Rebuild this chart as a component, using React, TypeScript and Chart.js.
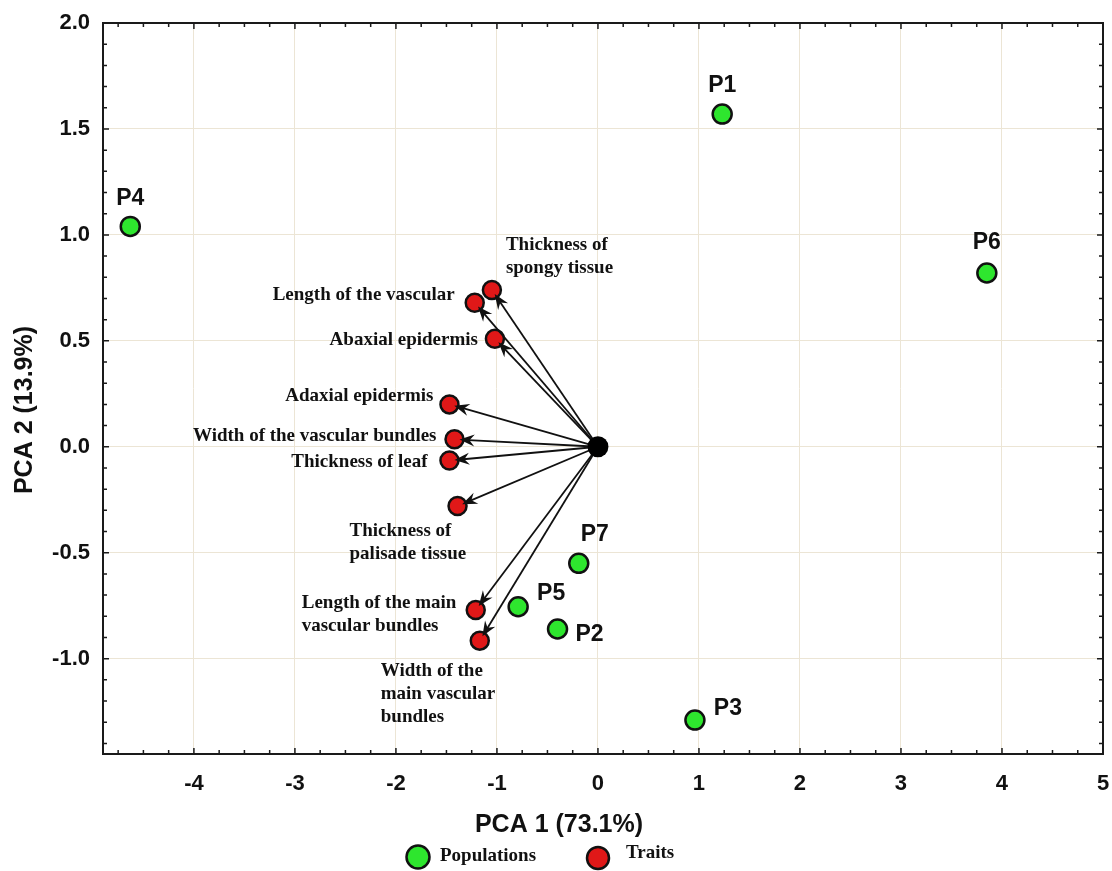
import React, { useEffect, useRef } from "react";
import { Chart, registerables } from "chart.js";

Chart.register(...registerables);

// ---- Data ----
const populationLabels = ["P1", "P2", "P3", "P4", "P5", "P6", "P7"];
const populationPC1 = [1.23, -0.4, 0.96, -4.63, -0.79, 3.85, -0.19];
const populationPC2 = [1.57, -0.86, -1.29, 1.04, -0.755, 0.82, -0.55];

const traitLabels: string[][] = [
  ["Thickness of", "spongy tissue"],
  ["Length of the vascular"],
  ["Abaxial epidermis"],
  ["Adaxial epidermis"],
  ["Width of the vascular bundles"],
  ["Thickness of leaf"],
  ["Thickness of", "palisade tissue"],
  ["Length of the main", "vascular bundles"],
  ["Width of the", "main vascular", "bundles"],
];
const traitPC1 = [-1.05, -1.22, -1.02, -1.47, -1.42, -1.47, -1.39, -1.21, -1.17];
const traitPC2 = [0.74, 0.68, 0.51, 0.2, 0.035, -0.065, -0.28, -0.77, -0.915];

const xTitle = "PCA 1 (73.1%)";
const yTitle = "PCA 2 (13.9%)";
const legendLabels = ["Populations", "Traits"];

// ---- Layout (label offsets in px relative to the point) ----
const popLabelOffsets = [
  [0, -28], [32, 6], [33, -11], [0, -28], [33, -13], [0, -30], [16, -29],
];
// dx, first-line dy, align
const traitLabelLayout: [number, number, CanvasTextAlign][] = [
  [14, -45, "left"],
  [-20, -8, "right"],
  [-17, 1, "right"],
  [-16, -8, "right"],
  [-18, -3, "right"],
  [-22, 2, "right"],
  [-108, 25, "left"],
  [-174, -7, "left"],
  [-99, 30, "left"],
];

const GREEN = "#2ee62e";
const RED = "#e01818";
const SANS = '"Liberation Sans", Arial, sans-serif';
const SERIF = '"Liberation Serif", "Times New Roman", serif';

const overlay = {
  id: "overlay",
  afterDatasetsDraw(chart: any) {
    const { ctx, chartArea, scales } = chart;
    const { left, right, top, bottom } = chartArea;
    const x = scales.x;
    const y = scales.y;
    ctx.save();

    // arrows
    const ox = x.getPixelForValue(0);
    const oy = y.getPixelForValue(0);
    ctx.strokeStyle = "#111";
    ctx.fillStyle = "#111";
    ctx.lineWidth = 1.8;
    traitPC1.forEach((v, i) => {
      const px = x.getPixelForValue(v);
      const py = y.getPixelForValue(traitPC2[i]);
      const dx = px - ox;
      const dy = py - oy;
      const len = Math.hypot(dx, dy);
      const ux = dx / len;
      const uy = dy / len;
      const d = len - 5;
      const tx = ox + ux * d;
      const ty = oy + uy * d;
      ctx.beginPath();
      ctx.moveTo(ox, oy);
      ctx.lineTo(tx - ux * 9, ty - uy * 9);
      ctx.stroke();
      const nx = -uy;
      const ny = ux;
      ctx.beginPath();
      ctx.moveTo(tx, ty);
      ctx.lineTo(tx - ux * 15 + nx * 6, ty - uy * 15 + ny * 6);
      ctx.lineTo(tx - ux * 10, ty - uy * 10);
      ctx.lineTo(tx - ux * 15 - nx * 6, ty - uy * 15 - ny * 6);
      ctx.closePath();
      ctx.fill();
    });

    // origin dot on top
    ctx.beginPath();
    ctx.arc(ox, oy, 10.5, 0, Math.PI * 2);
    ctx.fillStyle = "#000";
    ctx.fill();

    // frame
    ctx.strokeStyle = "#1a1a1a";
    ctx.lineWidth = 2;
    ctx.strokeRect(left, top, right - left, bottom - top);

    // ticks inward on all sides
    ctx.lineWidth = 1.5;
    ctx.beginPath();
    for (let k = -19; k <= 20; k++) {
      const v = k * 0.25;
      if (v < x.min || v > x.max) continue;
      const major = Math.abs(v - Math.round(v)) < 1e-9;
      const l = major ? 6 : 4;
      const p = x.getPixelForValue(v);
      ctx.moveTo(p, bottom);
      ctx.lineTo(p, bottom - l);
      ctx.moveTo(p, top);
      ctx.lineTo(p, top + l);
    }
    for (let k = -14; k <= 20; k++) {
      const v = k * 0.1;
      if (v < y.min - 1e-9 || v > y.max + 1e-9) continue;
      const major = Math.abs(v * 2 - Math.round(v * 2)) < 1e-9;
      const l = major ? 6 : 4;
      const p = y.getPixelForValue(v);
      ctx.moveTo(left, p);
      ctx.lineTo(left + l, p);
      ctx.moveTo(right, p);
      ctx.lineTo(right - l, p);
    }
    ctx.stroke();

    // population labels
    ctx.fillStyle = "#111";
    ctx.font = `bold 23px ${SANS}`;
    ctx.textAlign = "center";
    ctx.textBaseline = "middle";
    populationLabels.forEach((lab, i) => {
      const px = x.getPixelForValue(populationPC1[i]);
      const py = y.getPixelForValue(populationPC2[i]);
      ctx.fillText(lab, px + popLabelOffsets[i][0], py + popLabelOffsets[i][1]);
    });

    // trait labels
    ctx.font = `bold 19px ${SERIF}`;
    traitLabels.forEach((lines, i) => {
      const px = x.getPixelForValue(traitPC1[i]);
      const py = y.getPixelForValue(traitPC2[i]);
      const [ddx, ddy, align] = traitLabelLayout[i];
      ctx.textAlign = align;
      lines.forEach((t, j) => {
        ctx.fillText(t, px + ddx, py + ddy + j * 23);
      });
    });

    // axis titles
    ctx.font = `bold 25px ${SANS}`;
    ctx.textAlign = "center";
    ctx.fillText(xTitle, 559, 825);
    ctx.save();
    ctx.translate(25, 410);
    ctx.rotate(-Math.PI / 2);
    ctx.fillText(yTitle, 0, 0);
    ctx.restore();

    // legend
    const items = [
      { cx: 418, cy: 857, r: 11.5, color: GREEN, tx: 440, ty: 856 },
      { cx: 598, cy: 858, r: 11, color: RED, tx: 626, ty: 853 },
    ];
    ctx.font = `bold 19px ${SERIF}`;
    ctx.textAlign = "left";
    items.forEach((it, i) => {
      ctx.beginPath();
      ctx.arc(it.cx, it.cy, it.r, 0, Math.PI * 2);
      ctx.fillStyle = it.color;
      ctx.fill();
      ctx.lineWidth = 2.5;
      ctx.strokeStyle = "#111";
      ctx.stroke();
      ctx.fillStyle = "#111";
      ctx.fillText(legendLabels[i], it.tx, it.ty);
    });

    ctx.restore();
  },
};

export default function App() {
  const ref = useRef<HTMLCanvasElement | null>(null);
  useEffect(() => {
    if (!ref.current) return;
    const chart = new Chart(ref.current, {
      type: "scatter",
      data: {
        datasets: [
          {
            label: legendLabels[0],
            data: populationPC1.map((v, i) => ({ x: v, y: populationPC2[i] })),
            backgroundColor: GREEN,
            borderColor: "#111",
            borderWidth: 2.5,
            pointRadius: 9.5,
            pointHoverRadius: 9.5,
          },
          {
            label: legendLabels[1],
            data: traitPC1.map((v, i) => ({ x: v, y: traitPC2[i] })),
            backgroundColor: RED,
            borderColor: "#111",
            borderWidth: 2.5,
            pointRadius: 9,
            pointHoverRadius: 9,
          },
        ],
      },
      options: {
        responsive: false,
        animation: false,
        events: [],
        layout: { padding: { left: 0, top: 23, right: 3, bottom: 67 } },
        plugins: { legend: { display: false }, tooltip: { enabled: false } },
        scales: {
          x: {
            type: "linear",
            min: -4.9,
            max: 5,
            afterFit: (s: any) => {
              s.height = 50;
              s.paddingLeft = 0;
              s.paddingRight = 0;
            },
            grid: { color: "#ece5d5", drawTicks: false, lineWidth: 1 },
            border: { display: false },
            ticks: {
              stepSize: 1,
              includeBounds: false,
              maxRotation: 0,
              autoSkip: false,
              padding: 17,
              color: "#111",
              font: { family: SANS, size: 22, weight: "bold" },
              callback: (v: any) => String(Math.round(Number(v))),
            },
          },
          y: {
            type: "linear",
            min: -1.45,
            max: 2.0,
            afterFit: (s: any) => {
              s.width = 103;
              s.paddingTop = 0;
              s.paddingBottom = 0;
            },
            grid: { color: "#ece5d5", drawTicks: false, lineWidth: 1 },
            border: { display: false },
            ticks: {
              stepSize: 0.5,
              includeBounds: false,
              autoSkip: false,
              padding: 13,
              color: "#111",
              font: { family: SANS, size: 22, weight: "bold" },
              callback: (v: any) => Number(v).toFixed(1),
            },
          },
        },
      },
      plugins: [overlay],
    } as any);
    return () => chart.destroy();
  }, []);
  return (
    <div
      style={{
        position: "absolute",
        left: 0,
        top: 0,
        width: 1112,
        height: 871,
        overflow: "hidden",
        background: "#fff",
      }}
    >
      <canvas ref={ref} width={1115} height={871} style={{ display: "block" }} />
    </div>
  );
}
